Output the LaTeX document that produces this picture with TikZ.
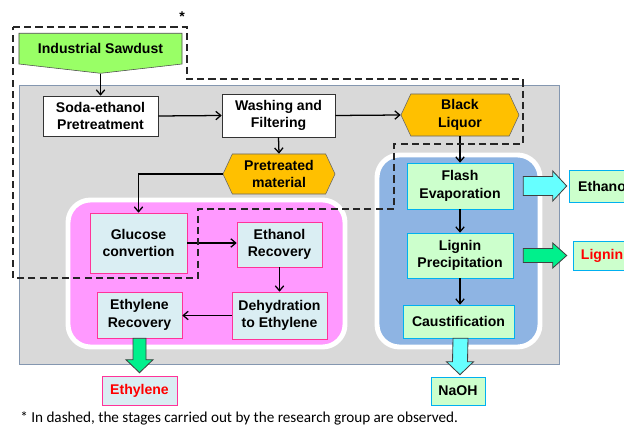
\documentclass[tikz,border=0pt]{standalone}
\usepackage{fontspec}
\setmainfont{Liberation Sans}
\newfontfamily\notefont{Carlito}
\usetikzlibrary{arrows.meta,shapes.symbols,calc}

\definecolor{sawgreen}{HTML}{99FF66}
\definecolor{liqorange}{HTML}{FFC000}
\definecolor{bggrey}{HTML}{D9D9D9}
\definecolor{bgedge}{HTML}{8497B0}
\definecolor{ethpink}{HTML}{FF99FF}
\definecolor{lignblue}{HTML}{8EB4E3}
\definecolor{paleblue}{HTML}{DAEEF3}
\definecolor{rose}{HTML}{FF3399}
\definecolor{palegreen}{HTML}{CCFFCC}
\definecolor{skyedge}{HTML}{00B0F0}
\definecolor{arrcyan}{HTML}{66FFFF}
\definecolor{arrgreen}{HTML}{00F08C}

\begin{document}
\begin{tikzpicture}[
    x=0.025cm, y=-0.025cm,
    txt/.style={align=center, inner sep=1pt,
                font=\fontsize{10}{12.5}\selectfont\bfseries},
    plain/.style={txt, draw=black!80, fill=white},
    ethbox/.style={txt, draw=rose, fill=paleblue},
    ligbox/.style={txt, draw=skyedge, fill=palegreen},
    hexa/.style={txt, signal, signal to=west and east, signal pointer angle=130,
                 draw=black!60, fill=liqorange},
    region/.style={draw=white, line width=3.5pt, rounded corners=16pt},
    fat/.style={draw=black!75, line width=0.6pt},
    arr/.style={-{Straight Barb[length=3.5pt,width=6pt]}, line width=0.9pt}
]
\useasboundingbox (0,0) rectangle (624,425);

% background areas
\draw[bgedge, fill=bggrey, line width=0.6pt] (19,85) rectangle (559,364);
\draw[region, fill=ethpink] (68,200) rectangle (345,347);
\draw[region, fill=lignblue] (377,155) rectangle (540,347);

% pretreatment
\node[txt, signal, signal to=south, signal pointer angle=167, draw=black!70,
      fill=sawgreen, minimum width=4.075cm, minimum height=0.95cm,
      anchor=north] (saw) at (100.5,33) {Industrial Sawdust};
\node[plain, minimum width=2.875cm, minimum height=1.0cm] (soda) at (100.5,116) {Soda-ethanol\\Pretreatment};
\node[plain, minimum width=2.825cm, minimum height=1.075cm] (wash) at (278.5,115.5) {Washing and\\Filtering};
\node[hexa, minimum width=2.95cm, minimum height=1.05cm] (liq) at (460,115) {Black\\Liquor};
\node[hexa, minimum width=2.8cm, minimum height=1.0cm] (pre) at (279,174) {Pretreated\\material};

% ethylene route
\node[ethbox, minimum width=2.425cm, minimum height=1.5cm] (glu) at (138.5,243) {Glucose\\convertion};
\node[ethbox, minimum width=2.125cm, minimum height=1.125cm] (etr) at (279.5,244.5) {Ethanol\\Recovery};
\node[ethbox, minimum width=2.375cm, minimum height=1.175cm] (deh) at (279.5,315.5) {Dehydration\\to Ethylene};
\node[ethbox, minimum width=2.125cm, minimum height=1.15cm] (eyr) at (139.5,315) {Ethylene\\Recovery};
\node[ethbox, text=red, minimum width=1.875cm, minimum height=0.725cm] (eyo) at (139.5,390.5) {Ethylene};

% lignin route
\node[ligbox, minimum width=2.65cm, minimum height=1.15cm] (fla) at (460,186) {Flash\\Evaporation};
\node[ligbox, minimum width=2.65cm, minimum height=1.125cm] (lig) at (460,255.5) {Lignin\\Precipitation};
\node[ligbox, minimum width=2.775cm, minimum height=0.825cm] (cau) at (458.5,321.5) {Caustification};
\node[ligbox, minimum width=1.35cm, minimum height=0.7cm] (nao) at (458,391) {NaOH};
\node[ligbox, minimum width=1.75cm, minimum height=0.8cm] (eto) at (604,186) {Ethanol};
\node[ligbox, text=red, minimum width=1.45cm, minimum height=0.725cm] (lio) at (602,255.5) {Lignin};

% connectors
\draw[arr] (saw.south) -- (soda.north);
\draw[arr] (soda.east) -- (wash.west);
\draw[arr] (wash.east) -- (liq.west);
\draw[arr] (wash.south) -- (pre.north);
\draw[arr] (pre.west) -| (glu.north);
\draw[arr] (liq.south) -- (fla.north);
\draw[arr] (glu.east) -- (glu.east -| etr.west);
\draw[arr] (etr.south) -- (deh.north);
\draw[arr] (deh.west) -- (deh.west -| eyr.east);
\draw[arr] (fla.south) -- (lig.north);
\draw[arr] (lig.south) -- (lig.south |- cau.north);

% product arrows
\coordinate (e1) at ($(fla.east)+(10,0)$);
\coordinate (e2) at ($(eto.west)+(-2,0)$);
\draw[fat, fill=arrcyan] ($(e1)+(0,-9.5)$) -- ($(e2)+(-14,-9.5)$) -- ($(e2)+(-14,-15)$)
    -- (e2) -- ($(e2)+(-14,15)$) -- ($(e2)+(-14,9.5)$) -- ($(e1)+(0,9.5)$) -- cycle;
\coordinate (l1) at ($(lig.east)+(10,0)$);
\coordinate (l2) at ($(lio.west)+(-6,0)$);
\draw[fat, fill=arrgreen] ($(l1)+(0,-7)$) -- ($(l2)+(-14,-7)$) -- ($(l2)+(-14,-12.5)$)
    -- (l2) -- ($(l2)+(-14,12.5)$) -- ($(l2)+(-14,7)$) -- ($(l1)+(0,7)$) -- cycle;
\coordinate (y1) at (eyr.south);
\coordinate (y2) at ($(eyo.north)+(0,-3)$);
\draw[fat, fill=arrgreen] ($(y1)+(-6.5,0)$) -- ($(y2)+(-6.5,-13)$) -- ($(y2)+(-13.5,-13)$)
    -- (y2) -- ($(y2)+(13.5,-13)$) -- ($(y2)+(6.5,-13)$) -- ($(y1)+(6.5,0)$) -- cycle;
\coordinate (n1) at ($(cau.south)+(2,0)$);
\coordinate (n2) at ($(nao.north)+(2,-2)$);
\draw[fat, fill=arrcyan] ($(n1)+(-7.5,0)$) -- ($(n2)+(-7.5,-13)$) -- ($(n2)+(-13.5,-13)$)
    -- (n2) -- ($(n2)+(13.5,-13)$) -- ($(n2)+(7.5,-13)$) -- ($(n1)+(7.5,0)$) -- cycle;

% stages done by the research group
\draw[dashed, dash pattern=on 5pt off 3pt, line width=0.9pt, black!85]
    (13,27) -- (187,27) -- (187,79) -- (523,79) -- (523,144) -- (394,144)
    -- (394,209) -- (198,209) -- (198,278) -- (13,278) -- cycle;
\node[font=\fontsize{10}{12}\selectfont\bfseries] (ast) at (182,17) {*};

\node[anchor=west, inner sep=0pt, font=\notefont\fontsize{10.8}{12}\selectfont] (note) at (20,418)
    {* In dashed, the stages carried out by the research group are observed.};
\end{tikzpicture}
\end{document}
